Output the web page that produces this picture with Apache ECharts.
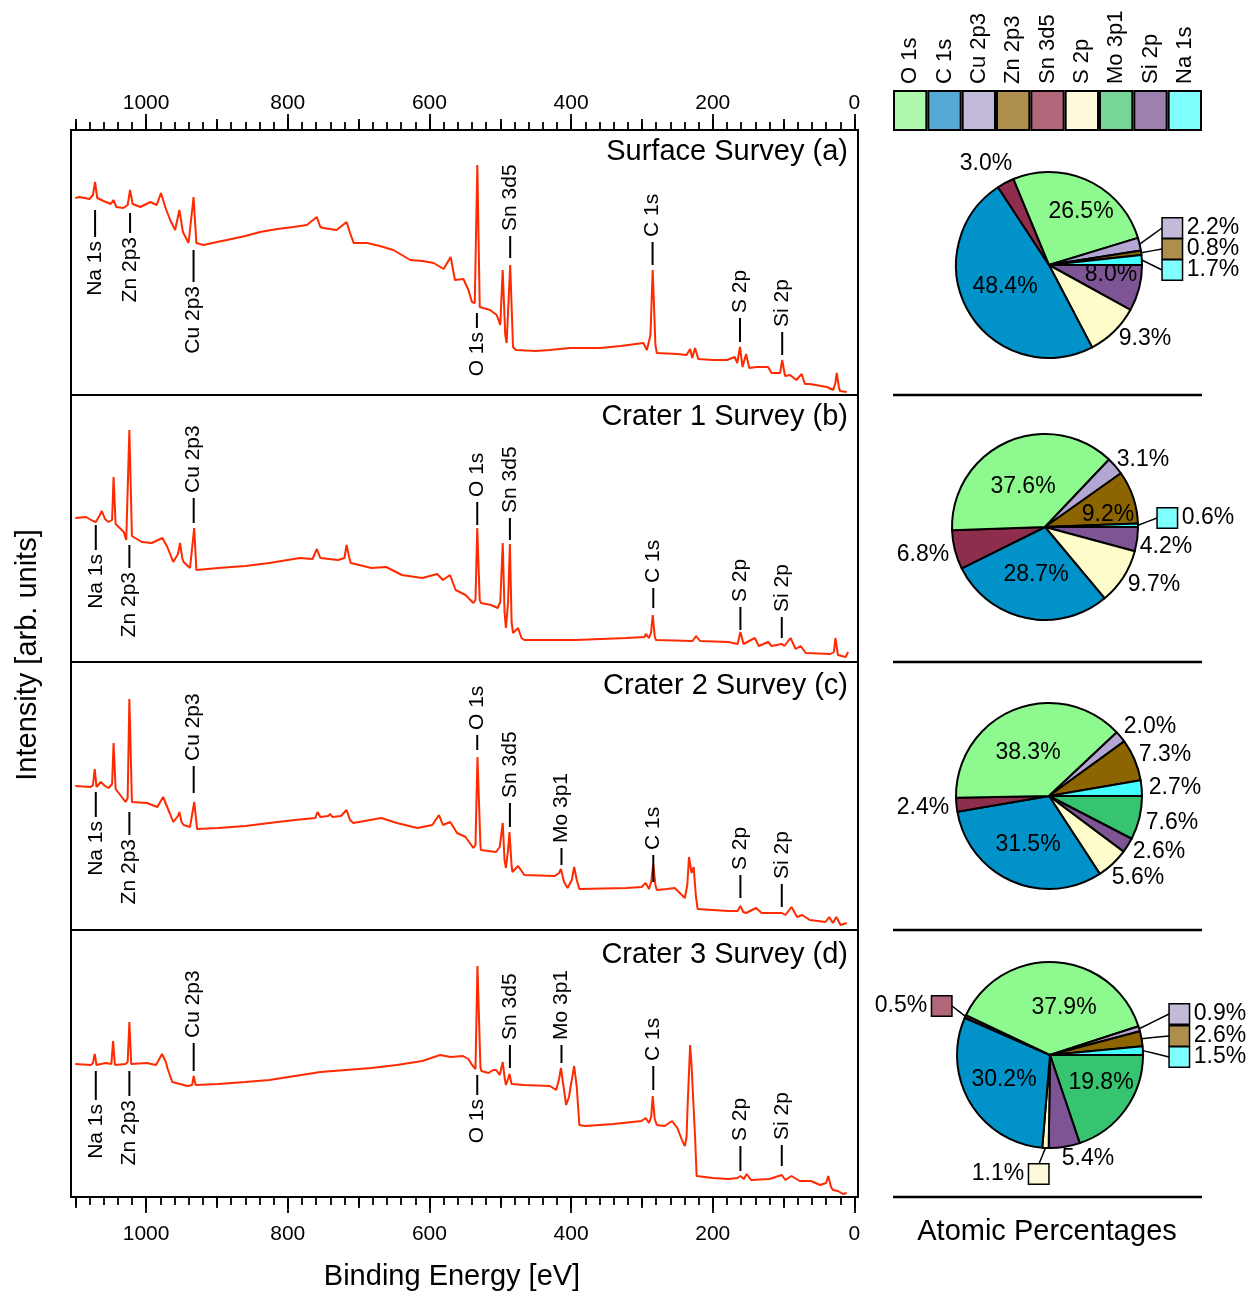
<!DOCTYPE html>
<html>
<head>
<meta charset="utf-8">
<script src="https://cdn.jsdelivr.net/npm/echarts@6.0.0/dist/echarts.min.js"></script>
<style>
  html, body { margin: 0; padding: 0; background: #fff; }
  #main { width: 1257px; height: 1295px; }
</style>
</head>
<body>
<div id="main"></div>
<script>
var family = '"Liberation Sans", Helvetica, Arial, sans-serif';
function font(px) { return px + 'px ' + family; }

// ---- survey spectra: binding energy [eV] / intensity [arb. units] ----
var surfaceEnergy = [1100,1094,1080,1075,1072,1069,1060,1050,1046,1042, 1032,1026,1022.6,1019,1008,994,985,979,972,966,
  959,953,948,940,933,929,919,900,886,860, 839,815,792,773,759,754,750,731,717,712,
  707,688,670,651,627,610,594,580,570,564, 552,545,540,536,532.4,529,514.5,505,500,496.6,
  493,491,486,482,478,450,430,402,359,330, 298,293,288,284.8,281,279,250,237,232,229,
  225,220.5,200,180,169,165.5,161.6,158,153,148.5, 138,122,117,105,102,98,91,82,74.5,70,
  63,39,30,27,25,22,20.5,11];
var surfaceCounts = [197,198,196,200,213,197,194,191,195,188, 187,190,205,191,188,193,190,202,186,175,
  165,185,163,152,198,152,150,153,155,159, 163,166,168,170,178,168,167,165,173,162,
  152,152,149,145,135,134,132,126,138,115, 116,105,93,92,230,88,85,80,70,125,
  60,52,130,48,45,44,45,47,47,49, 52,45,60,125,50,42,41,40,46,37,
  47,36,35,35,38,32,48,28,41,27, 28,28,22,22,35,19,20,15,21,11,
  11,8,5,12,22,8,4,3];

var crater1Energy = [1100,1085,1075,1071,1066,1062.5,1058,1053,1048,1045.9, 1043,1041,1031.5,1028,1023.6,1020,1018.5,1006,992,977,
  970,961.6,955,952,949,947,938,932.1,929,927, 898,860,826,783,765,759,754,729,720,717,
  713,711,682,661,639,610,589,581,571,563, 549,538,535,532.5,529,527.4,513,503.7,500,496.5,
  494,492,489,486.4,484,482,475,470,466,394, 322,296,294.8,290,287,284.8,282,280.4,228.6,223.5,
  218,178,165,161,156.6,140.7,135,122,117,102.6, 99,90.3,83,76,68.7,34,29,26.9,23.3,12.5,9];
var crater1Counts = [144,145,141,140,146,151,143,140,142,185, 138,137,130,122,232,126,127,120,119,124,
  115,100,108,119,104,100,94,134,92,92, 94,96,99,104,103,113,104,102,104,117,
  104,99,94,95,87,84,88,82,87,72, 67,59,62,134,62,59,57,54,60,119,
  50,34,60,118,40,29,34,24,22,22, 24,25,28,24,30,47,26,22,21,26,
  21,20,18,30,18,24,16,20,16,18, 16,24,13,16,9,8,10,24,7,5,10];

var crater2Energy = [1100,1078,1075,1072.5,1070,1064,1058,1053,1048,1045.9, 1043,1042,1029,1026,1023.6,1020,1018.5,999,984,976,
  966.7,961.6,955,953,950,947,938,932,928,925.6, 898,860,826,790,761,757.9,754,743,740,737,
  725,717,712,707.5,668,646,617,596,586.5,581, 570.6,561,549,538,535,532.2,528,527.4,506,500.8,
  496.5,494,492,489,487,484,482.8,474.9,466,423, 417,414.4,410,405,399,395.7,392,388.4,322,300.6,
  294.8,290,287,284,281,279,264.6,253.8,246.6,239.4, 236,233.6,230,227,224,221.4,178,165,161,157,
  153,139,131,102.6,97.5,88.9,81,73.8,63,41, 35.6,30.5,25.5,19.7,11];
var crater2Counts = [144,143,145,161,143,148,144,142,146,187, 141,140,128,132,231,128,126,127,123,133,
  117,108,114,118,108,105,103,128,101,99, 102,104,107,110,112,118,113,114,116,113,
  114,120,110,107,112,107,102,105,115,105, 108,97,93,82,85,173,85,80,78,83,
  107,70,62,80,98,64,58,64,55,54, 57,61,48,42,50,63,50,41,42,43,
  47,41,48,66,45,40,41,42,37,32, 45,73,57,63,35,21,19,19,24,18,
  17,22,17,17,15,23,13,15,10,8, 13,7,13,5,7];

var crater3Energy = [1100,1078,1075,1072.5,1070,1057,1049,1046.6,1044,1029, 1026,1023.6,1021,999,986,977.5,972,970,963,941.5,
  935,932.8,930,898,860,826,790,754,718,682, 646,610,585,570,552.6,545,539.7,535,532.2,528,
  526.7,516.6,510,505.8,500.8,496.5,494,492,489,487, 484,482,466,430,421,417,414.4,411,407,403,
  401,395.7,392,388.4,380,340,300.6,294.8,290,287, 284.8,282,279,268,257.4,250,243,239.4,237,235.8,
  232,230,227.9,225,222.8,200,178,165,161,156, 152.3,146,120,102.6,97.5,88.9,77.3,61.5,48.5,40,
  37,33,30.5,23.3,16,11];
var crater3Counts = [133,132,134,143,132,134,133,156,132,133, 135,175,133,134,132,143,135,129,115,111,
  112,121,112,113,115,117,121,125,127,129, 132,136,142,140,141,138,132,128,231,130,
  126,124,127,127,122,135,120,112,118,123, 113,111,112,111,107,118,129,112,92,100,
  109,131,110,72,71,73,76,79,74,80, 101,78,72,71,76,69,56,51,60,86,
  152,132,134,60,21,19,18,19,21,18, 23,17,18,22,17,21,16,16,12,14,
  21,10,7,6,3,4];

// ---- peak annotations: name, energy, line top, line bottom, text side ----
var surfacePeaks = [
  ['Na 1s', 1072, 185, 158, 'below'], ['Zn 2p3', 1022.6, 182, 162, 'below'],
  ['Cu 2p3', 933, 145, 113, 'below'], ['O 1s', 533, 82, 67, 'below'],
  ['Sn 3d5', 486, 159, 137, 'above'], ['C 1s', 285, 153, 130, 'above'],
  ['S 2p', 161.6, 77, 53, 'above'], ['Si 2p', 102, 63, 40, 'above']
];
var crater1Peaks = [
  ['Na 1s', 1071, 137, 112, 'below'], ['Zn 2p3', 1023.6, 117, 94, 'below'],
  ['Cu 2p3', 932.8, 164, 139, 'above'], ['O 1s', 532.5, 160, 137, 'above'],
  ['Sn 3d5', 486.4, 144, 122, 'above'], ['C 1s', 284, 74, 54, 'above'],
  ['S 2p', 161, 55, 32, 'above'], ['Si 2p', 102.6, 45, 24, 'above']
];
var crater2Peaks = [
  ['Na 1s', 1071, 138, 113, 'below'], ['Zn 2p3', 1023.6, 118, 95, 'below'],
  ['Cu 2p3', 932.8, 164, 137, 'above'], ['O 1s', 532.5, 195, 180, 'above'],
  ['Sn 3d5', 486.4, 127, 103, 'above'], ['Mo 3p1', 413.6, 82, 65, 'above'],
  ['C 1s', 284, 75, 48, 'above'], ['S 2p', 161, 55, 32, 'above'], ['Si 2p', 102.6, 46, 23, 'above']
];
var crater3Peaks = [
  ['Na 1s', 1071, 126, 97, 'below'], ['Zn 2p3', 1023.6, 126, 101, 'below'],
  ['Cu 2p3', 932.8, 154, 126, 'above'], ['O 1s', 532.5, 122, 102, 'below'],
  ['Sn 3d5', 486.4, 152, 129, 'above'], ['Mo 3p1', 413.6, 152, 134, 'above'],
  ['C 1s', 284, 131, 107, 'above'], ['S 2p', 161, 51, 26, 'above'], ['Si 2p', 102.6, 52, 31, 'above']
];

// ---- atomic percentages (clockwise from 3 o'clock) ----
var elements = ['O 1s', 'C 1s', 'Cu 2p3', 'Zn 2p3', 'Sn 3d5', 'S 2p', 'Mo 3p1', 'Si 2p', 'Na 1s'];
var pieNames = ['Si 2p', 'S 2p', 'C 1s', 'Sn 3d5', 'O 1s', 'Cu 2p3', 'Zn 2p3', 'Na 1s'];
var pieNamesMo = ['Mo 3p1', 'Si 2p', 'S 2p', 'C 1s', 'Sn 3d5', 'O 1s', 'Cu 2p3', 'Zn 2p3', 'Na 1s'];
var surfaceAtoms = [8.0, 9.3, 48.4, 3.0, 26.5, 2.2, 0.8, 1.7];
var crater1Atoms = [4.2, 9.7, 28.7, 6.8, 37.6, 3.1, 9.2, 0.6];
var crater2Atoms = [7.6, 2.6, 5.6, 31.5, 2.4, 38.3, 2.0, 7.3, 2.7];
var crater3Atoms = [19.8, 5.4, 1.1, 30.2, 0.5, 37.9, 0.9, 2.6, 1.5];

var sliceColor = {'O 1s': '#8ef98e', 'C 1s': '#0092c8', 'Cu 2p3': '#b3a6d3', 'Zn 2p3': '#8c6400',
  'Sn 3d5': '#8e2e4c', 'S 2p': '#fffccc', 'Mo 3p1': '#36c470', 'Si 2p': '#7d5595', 'Na 1s': '#44ffff'};
var boxColor = {'O 1s': '#aff9af', 'C 1s': '#55aad5', 'Cu 2p3': '#c3bada', 'Zn 2p3': '#ad8e4d',
  'Sn 3d5': '#af6779', 'S 2p': '#fffadb', 'Mo 3p1': '#78d598', 'Si 2p': '#9e80b0', 'Na 1s': '#80ffff'};

// ---- layout ----
var E_MIN = -5, E_MAX = 1106;
var panelTops = [130, 395, 662, 930];
var panelHeights = [265, 267, 268, 267];
var panelTitles = ['Surface Survey (a)', 'Crater 1 Survey (b)', 'Crater 2 Survey (c)', 'Crater 3 Survey (d)'];
var titleY = [152, 417, 686, 955];
var PIE_R = 93;

// label offsets from pie centre, and label kind
var surfaceLabels = {center: [1049, 265],
  offsets: [[62, 10], [96, 74], [-44, 22], [-63, -101], [32, -53], [152, -37], [152, -16], [152, 5]],
  kinds: ['text', 'text', 'text', 'text', 'text', 'boxL', 'boxL', 'boxL']};
var crater1Labels = {center: [1045, 527],
  offsets: [[121, 20], [109, 58], [-9, 48], [-122, 28], [-22, -40], [98, -67], [63, -12], [151, -9]],
  kinds: ['text', 'text', 'text', 'text', 'text', 'text', 'text', 'boxL']};
var crater2Labels = {center: [1049, 796],
  offsets: [[123, 27], [110, 56], [89, 82], [-21, 49], [-126, 12], [-21, -43], [101, -69], [116, -41], [126, -8]],
  kinds: ['text', 'text', 'text', 'text', 'text', 'text', 'text', 'text', 'text']};
var crater3Labels = {center: [1050, 1055],
  offsets: [[51, 28], [38, 104], [-40, 119], [-46, 25], [-137, -49], [14, -47], [158, -41], [158, -19], [158, 2]],
  kinds: ['text', 'text', 'boxB', 'text', 'boxR', 'text', 'boxL', 'boxL', 'boxL']};

var minorTicks = [], midTicks = [], majorTicks = [];
for (var e = 0; e <= 1100; e += 20) {
  minorTicks.push(e);
  if (e % 100 === 0) midTicks.push(e);
  if (e % 200 === 0) majorTicks.push(e);
}

function zip(xs, ys) {
  return xs.map(function (x, i) { return [x, ys[i]]; });
}

function tickAxis(grid, pos, ticks, len, withLabels, margin) {
  return {
    type: 'value', gridIndex: grid, position: pos, inverse: true, min: E_MIN, max: E_MAX,
    axisLine: {show: false, onZero: false},
    axisTick: {show: true, customValues: ticks, length: len, lineStyle: {color: '#000', width: 1.8}},
    axisLabel: withLabels ? {show: true, customValues: majorTicks, margin: margin,
      formatter: function (v) { return String(v); },
      fontSize: 21, fontFamily: family, color: '#000'} : {show: false},
    splitLine: {show: false}
  };
}

function hiddenAxis(grid) {
  return {type: 'value', gridIndex: grid, show: false, inverse: true, min: E_MIN, max: E_MAX,
    axisLine: {onZero: false}, splitLine: {show: false}};
}

function spectrum(xi, yi, energy, counts) {
  return {
    type: 'line', xAxisIndex: xi, yAxisIndex: yi, data: zip(energy, counts),
    showSymbol: false, symbol: 'none', silent: true,
    lineStyle: {color: '#ff2a00', width: 2}, z: 3
  };
}

function peakMarks(xi, yi, peaks) {
  return {
    type: 'custom', xAxisIndex: xi, yAxisIndex: yi, silent: true, clip: false, z: 4,
    encode: {x: 0, y: [1, 2]},
    data: peaks.map(function (p) { return [p[1], p[2], p[3]]; }),
    renderItem: function (params, api) {
      var p = peaks[params.dataIndex];
      var top = api.coord([api.value(0), api.value(1)]);
      var bot = api.coord([api.value(0), api.value(2)]);
      var below = p[4] === 'below';
      var al = below ? 'right' : 'left';
      return {
        type: 'group',
        children: [
          {type: 'line', shape: {x1: top[0], y1: top[1], x2: bot[0], y2: bot[1]},
            style: {stroke: '#000', lineWidth: 2}},
          {type: 'text', x: top[0], y: below ? bot[1] + 4 : top[1] - 5, rotation: Math.PI / 2,
            style: {text: p[0], font: font(21), fill: '#000', textFill: '#000',
              align: al, textAlign: al, verticalAlign: 'middle', textVerticalAlign: 'middle'}}
        ]
      };
    }
  };
}

function pieSeries(names, values, lay) {
  var total = values.reduce(function (a, b) { return a + b; }, 0);
  var c = lay.center;
  return {
    type: 'pie', center: c, radius: PIE_R, startAngle: 0, clockwise: true,
    avoidLabelOverlap: false, silent: true, z: 3,
    itemStyle: {borderColor: '#000', borderWidth: 2},
    emphasis: {disabled: true},
    data: names.map(function (n, i) {
      var txt = values[i].toFixed(1) + '%';
      var kind = lay.kinds[i];
      var label = {show: true, position: 'outside', color: '#000', fontSize: 23, fontFamily: family};
      if (kind === 'text') {
        label.formatter = txt;
      } else {
        label.formatter = kind === 'boxL' ? '{box|}{t|' + txt + '}' : '{t|' + txt + '}{box|}';
        label.rich = {
          box: {width: 19, height: 19, backgroundColor: boxColor[n], borderColor: '#000', borderWidth: 1.5},
          t: {fontSize: 23, fontFamily: family, color: '#000', padding: kind === 'boxL' ? [0, 0, 0, 5] : [0, 5, 0, 0]}
        };
      }
      return {
        name: n, value: values[i], itemStyle: {color: sliceColor[n]}, label: label,
        labelLine: {show: kind !== 'text', length: 6, length2: 0, lineStyle: {color: '#000', width: 1.5}}
      };
    }),
    labelLayout: function (p) {
      var i = p.dataIndex;
      var o = lay.offsets[i];
      var lx = c[0] + o[0], ly = c[1] + o[1];
      var res = {x: lx, y: ly, align: 'center', verticalAlign: 'middle', hideOverlap: false, moveOverlap: false};
      var kind = lay.kinds[i];
      if (kind !== 'text') {
        var before = 0;
        for (var k = 0; k < i; k++) before += values[k];
        var a = (before + values[i] / 2) / total * 2 * Math.PI;
        var s = [c[0] + PIE_R * Math.cos(a), c[1] + PIE_R * Math.sin(a)];
        var w = p.labelRect.width, end;
        if (kind === 'boxL') end = [lx - w / 2, ly];
        else if (kind === 'boxR') end = [lx + w / 2, ly];
        else end = [lx + w / 2 - 10, ly - 10];
        res.labelLinePoints = [s, [(s[0] + end[0]) / 2, (s[1] + end[1]) / 2], end];
      }
      return res;
    }
  };
}

var grids = panelTops.map(function (t, i) {
  return {left: 71, width: 787, top: t, height: panelHeights[i], show: true,
    borderColor: '#000', borderWidth: 2, backgroundColor: 'transparent', outerBoundsMode: 'none'};
});
grids.push({left: 893, width: 309, top: 90, height: 41, outerBoundsMode: 'none'});

var xAxes = [
  tickAxis(0, 'top', minorTicks, 8, false), tickAxis(0, 'top', midTicks, 11, false), tickAxis(0, 'top', majorTicks, 16, true, 16),
  hiddenAxis(1), hiddenAxis(2),
  tickAxis(3, 'bottom', minorTicks, 8, false), tickAxis(3, 'bottom', midTicks, 11, false), tickAxis(3, 'bottom', majorTicks, 16, true, 27),
  {type: 'category', gridIndex: 4, position: 'top', data: elements,
    axisLine: {show: false}, axisTick: {show: false},
    axisLabel: {rotate: 90, interval: 0, margin: 6, fontSize: 22, fontFamily: family, color: '#000'}}
];
var yAxes = panelHeights.map(function (h, i) {
  return {type: 'value', gridIndex: i, show: false, min: 0, max: h, splitLine: {show: false}};
});
yAxes.push({type: 'value', gridIndex: 4, show: false, min: 0, max: 1});

var graphics = [];
panelTitles.forEach(function (t, i) {
  graphics.push({type: 'text', x: 848, y: titleY[i], z: 10,
    style: {text: t, font: font(29), fill: '#000', textFill: '#000', align: 'right', textAlign: 'right',
      verticalAlign: 'middle', textVerticalAlign: 'middle'}});
});
[395, 662, 930, 1197].forEach(function (y) {
  graphics.push({type: 'line', shape: {x1: 893, y1: y, x2: 1202, y2: y}, style: {stroke: '#000', lineWidth: 2.5}});
});
graphics.push({type: 'text', x: 452, y: 1277,
  style: {text: 'Binding Energy [eV]', font: font(29), fill: '#000', textFill: '#000', align: 'center', textAlign: 'center',
    verticalAlign: 'middle', textVerticalAlign: 'middle'}});
graphics.push({type: 'text', x: 28, y: 655, rotation: Math.PI / 2,
  style: {text: 'Intensity [arb. units]', font: font(29), fill: '#000', textFill: '#000', align: 'center', textAlign: 'center',
    verticalAlign: 'middle', textVerticalAlign: 'middle'}});
graphics.push({type: 'text', x: 1047, y: 1232,
  style: {text: 'Atomic Percentages', font: font(29), fill: '#000', textFill: '#000', align: 'center', textAlign: 'center',
    verticalAlign: 'middle', textVerticalAlign: 'middle'}});

var chart = echarts.init(document.getElementById('main'));
chart.setOption({
  animation: false,
  backgroundColor: '#fff',
  textStyle: {fontFamily: family, color: '#000'},
  grid: grids,
  xAxis: xAxes,
  yAxis: yAxes,
  graphic: graphics,
  series: [
    spectrum(0, 0, surfaceEnergy, surfaceCounts),
    spectrum(3, 1, crater1Energy, crater1Counts),
    spectrum(4, 2, crater2Energy, crater2Counts),
    spectrum(5, 3, crater3Energy, crater3Counts),
    peakMarks(0, 0, surfacePeaks),
    peakMarks(3, 1, crater1Peaks),
    peakMarks(4, 2, crater2Peaks),
    peakMarks(5, 3, crater3Peaks),
    {
      type: 'bar', xAxisIndex: 8, yAxisIndex: 4, barCategoryGap: '0%', silent: true,
      data: elements.map(function (n) {
        return {value: 1, itemStyle: {color: boxColor[n], borderColor: '#000', borderWidth: 2}};
      })
    },
    pieSeries(pieNames, surfaceAtoms, surfaceLabels),
    pieSeries(pieNames, crater1Atoms, crater1Labels),
    pieSeries(pieNamesMo, crater2Atoms, crater2Labels),
    pieSeries(pieNamesMo, crater3Atoms, crater3Labels)
  ]
});
</script>
</body>
</html>
